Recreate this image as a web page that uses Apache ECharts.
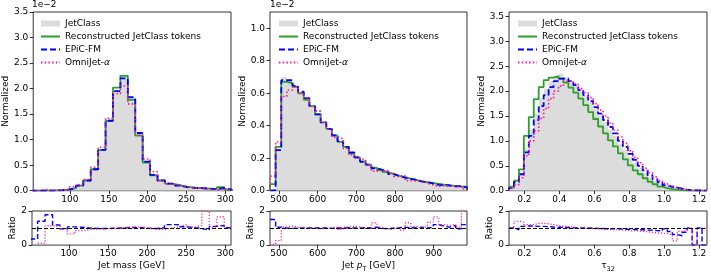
<!DOCTYPE html>
<html><head><meta charset="utf-8">
<script src="https://cdn.jsdelivr.net/npm/echarts@6/dist/echarts.min.js"></script>
<style>html,body{margin:0;padding:0;background:#fff}#c{width:711px;height:274px}</style>
</head><body><div id="c"></div>
<script>
// ---------- data (values in units of the y axis; 1e-2 offset for mass and pT) ----------
const massRange = [52.7, 307.3];
const massBinStart = 50.35, massBinWidth = 9.55;
const massTicks = [100, 150, 200, 250, 300];
const massJetClass = [0, 0.003, 0.005, 0.01, 0.02, 0.05, 0.1, 0.2, 0.42, 0.8, 1.37, 1.97, 2.25, 1.8, 1.1, 0.57, 0.31, 0.2, 0.14, 0.11, 0.08, 0.06, 0.05, 0.04, 0.03, 0.06, 0.02];
const massReco = [0, 0.003, 0.005, 0.01, 0.02, 0.05, 0.1, 0.2, 0.42, 0.8, 1.37, 2.02, 2.25, 1.78, 1.08, 0.55, 0.3, 0.2, 0.14, 0.11, 0.08, 0.06, 0.05, 0.04, 0.03, 0.07, 0.02];
const massEpic = [0, 0.002, 0.003, 0.008, 0.02, 0.05, 0.1, 0.2, 0.42, 0.8, 1.37, 1.95, 2.2, 1.83, 1.13, 0.57, 0.31, 0.2, 0.14, 0.1, 0.07, 0.055, 0.05, 0.04, 0.03, 0.055, 0.02];
const massOmni = [0, 0.025, 0.004, 0.009, 0.021, 0.077, 0.12, 0.22, 0.46, 0.85, 1.42, 1.9, 2.05, 1.7, 1.1, 0.62, 0.37, 0.2, 0.13, 0.1, 0.07, 0.055, 0.05, 0.035, 0.015, 0.035, 0.02];
const massRatioEpic = [0.36, 1.4, 1.78, 1.18, 0.95, 1.07, 1.05, 1.0, 0.98, 0.97, 0.99, 1.0, 1.02, 1.03, 1.02, 0.98, 0.97, 1.02, 1.2, 1.2, 1.08, 1.02, 0.97, 0.88, 1.1, 1.15, 1.02];
const massRatioOmni = [null, 0.12, 1.13, 1.1, 0.95, 0.65, 0.85, 0.9, 0.93, 0.95, 0.97, 1.0, 1.05, 1.08, 1.05, 1.0, 0.92, 0.92, 1.0, 1.1, 1.2, 1.05, 1.15, 2.0, 1.05, 1.65, 1.0];

const ptRange = [477, 986];
const ptBinStart = 477, ptBinWidth = 14.543;
const ptTicks = [500, 600, 700, 800, 900];
const ptJetClass = [0.005, 0.26, 0.70, 0.68, 0.645, 0.61, 0.57, 0.52, 0.47, 0.42, 0.38, 0.34, 0.30, 0.27, 0.23, 0.205, 0.18, 0.16, 0.142, 0.127, 0.114, 0.102, 0.092, 0.083, 0.074, 0.066, 0.059, 0.052, 0.047, 0.042, 0.037, 0.033, 0.03, 0.027, 0.024];
const ptReco = [0.04, 0.27, 0.67, 0.66, 0.64, 0.6, 0.56, 0.52, 0.47, 0.42, 0.38, 0.34, 0.3, 0.27, 0.23, 0.205, 0.18, 0.16, 0.142, 0.127, 0.114, 0.102, 0.092, 0.083, 0.074, 0.066, 0.059, 0.052, 0.047, 0.042, 0.037, 0.033, 0.03, 0.027, 0.024];
const ptEpic = [0.004, 0.25, 0.68, 0.68, 0.645, 0.61, 0.57, 0.52, 0.47, 0.42, 0.38, 0.34, 0.305, 0.27, 0.235, 0.205, 0.178, 0.16, 0.138, 0.128, 0.117, 0.102, 0.09, 0.08, 0.073, 0.066, 0.056, 0.052, 0.045, 0.036, 0.034, 0.032, 0.027, 0.028, 0.02];
const ptOmni = [0.09, 0.3, 0.58, 0.62, 0.64, 0.6, 0.57, 0.52, 0.49, 0.42, 0.38, 0.33, 0.32, 0.26, 0.22, 0.2, 0.19, 0.16, 0.12, 0.125, 0.12, 0.107, 0.088, 0.094, 0.062, 0.06, 0.059, 0.047, 0.035, 0.026, 0.031, 0.029, 0.025, 0.026, 0.012];
const ptRatioEpic = [1.5, 1.05, 1.0, 0.98, 1.0, 1.0, 1.0, 1.0, 1.0, 1.0, 0.98, 1.0, 1.0, 1.02, 1.0, 1.0, 1.02, 1.0, 1.05, 0.98, 0.95, 1.0, 1.02, 1.05, 1.02, 1.0, 1.05, 1.0, 1.05, 1.2, 1.1, 1.05, 1.15, 0.95, 1.2];
const ptRatioOmni = [0.05, 0.27, 1.05, 1.12, 1.05, 1.0, 0.98, 1.0, 0.95, 1.0, 1.02, 1.05, 0.92, 1.05, 1.1, 1.05, 0.98, 1.0, 1.3, 1.05, 0.95, 0.95, 1.05, 0.88, 1.3, 1.1, 1.0, 1.1, 1.35, 1.65, 1.2, 1.15, 1.2, 1.05, 2.0];

const tauRange = [0.112, 1.245];
const tauBinStart = 0.112, tauBinWidth = 0.028325;
const tauTicks = [0.2, 0.4, 0.6, 0.8, 1.0, 1.2];
const tauJetClass = [0.05, 0.15, 0.35, 0.85, 1.22, 1.55, 1.85, 2.05, 2.2, 2.3, 2.35, 2.28, 2.2, 2.1, 2.0, 1.9, 1.78, 1.65, 1.5, 1.38, 1.23, 1.1, 0.95, 0.82, 0.68, 0.56, 0.45, 0.36, 0.27, 0.2, 0.14, 0.1, 0.06, 0.04, 0.025, 0.015, 0.01, 0.006, 0.003, 0.002];
const tauReco = [0.08, 0.2, 0.43, 1.1, 1.48, 1.84, 2.08, 2.22, 2.27, 2.3, 2.25, 2.17, 2.07, 1.97, 1.85, 1.72, 1.58, 1.44, 1.29, 1.15, 1.01, 0.89, 0.75, 0.63, 0.51, 0.41, 0.33, 0.25, 0.18, 0.13, 0.08, 0.05, 0.03, 0.02, 0.01, 0.005, 0.003, 0.002, 0.001, 0.001];
const tauEpic = [0.05, 0.17, 0.33, 0.77, 1.1, 1.42, 1.7, 1.92, 2.08, 2.2, 2.25, 2.25, 2.2, 2.12, 2.02, 1.92, 1.8, 1.68, 1.55, 1.42, 1.28, 1.15, 1.0, 0.88, 0.74, 0.62, 0.5, 0.41, 0.31, 0.23, 0.17, 0.11, 0.075, 0.06, 0.04, 0.02, 0.01, 0.008, 0.003, 0.002];
const tauOmni = [0.05, 0.12, 0.26, 0.7, 1.0, 1.2, 1.45, 1.65, 1.85, 2.0, 2.1, 2.2, 2.2, 2.15, 2.05, 1.97, 1.87, 1.75, 1.62, 1.5, 1.36, 1.22, 1.08, 0.95, 0.8, 0.67, 0.56, 0.45, 0.36, 0.28, 0.2, 0.15, 0.1, 0.06, 0.04, 0.02, 0.01, 0.006, 0.003, 0.002];
const tauRatioEpic = [1.0, 0.9, 1.1, 1.12, 1.12, 1.1, 1.1, 1.08, 1.06, 1.05, 1.05, 1.03, 1.02, 1.0, 1.0, 1.0, 0.99, 0.98, 0.97, 0.96, 0.95, 0.95, 0.94, 0.93, 0.92, 0.9, 0.9, 0.88, 0.87, 0.85, 0.83, 0.95, 0.8, 0.62, 0.55, 0.75, 1.0, 0.0, 1.0, 0.0];
const tauRatioOmni = [1.0, 1.4, 1.35, 1.2, 1.2, 1.28, 1.28, 1.25, 1.2, 1.15, 1.1, 1.08, 1.05, 1.02, 1.0, 0.98, 0.97, 0.95, 0.93, 0.92, 0.9, 0.9, 0.88, 0.86, 0.85, 0.83, 0.8, 0.78, 0.75, 0.72, 0.7, 0.68, 0.6, 0.25, 0.8, 0.85, 1.0, 0.0, 1.0, 1.0];

const normTicksA = [0, 0.5, 1, 1.5, 2, 2.5, 3, 3.5];
const normTicksB = [0, 0.2, 0.4, 0.6, 0.8, 1.0];
const ratioTicks = [0, 2];

// ---------- helpers ----------
const FONT = 'DejaVu Sans';
function binEdges(start, width, n) { return Array.from({length: n + 1}, (_, i) => start + i * width); }
function histData(e, v, drop) {
  const d = [];
  if (drop) d.push([e[0], 0]);
  v.forEach((y, i) => d.push([e[i], y]));
  d.push([e[v.length], v[v.length - 1]]);
  if (drop) d.push([e[v.length], 0]);
  return d;
}
const COL = {gray: '#dcdcdc', green: '#2ca02c', blue: '#0000ff', pink: '#ff1493'};
const subRich = {
  i: {fontStyle: 'italic', fontSize: 9, fontFamily: FONT, lineHeight: 14, color: '#000'},
  t: {fontSize: 9, fontFamily: FONT, lineHeight: 14, color: '#000'},
  s: {fontSize: 6.5, fontFamily: FONT, lineHeight: 8, verticalAlign: 'bottom', color: '#000'}
};

const panels = [
  {range: massRange, bin: [massBinStart, massBinWidth], ticks: massTicks, yMax: 3.5, yTicks: normTicksA, xName: 'Jet mass [GeV]', xFmt: v => String(v),
   gray: massJetClass, reco: massReco, epic: massEpic, omni: massOmni, rEpic: massRatioEpic, rOmni: massRatioOmni,
   left: 32, width: 199, nGap: 19, rGap: 11, legLeft: 40, offset: true},
  {range: ptRange, bin: [ptBinStart, ptBinWidth], ticks: ptTicks, yMax: 1.1, yTicks: normTicksB, xName: 'Jet {i|p}{s|T} [GeV]', xFmt: v => String(v),
   gray: ptJetClass, reco: ptReco, epic: ptEpic, omni: ptOmni, rEpic: ptRatioEpic, rOmni: ptRatioOmni,
   left: 270, width: 197, nGap: 18, rGap: 11, legLeft: 278, offset: true},
  {range: tauRange, bin: [tauBinStart, tauBinWidth], ticks: tauTicks, yMax: 3.59, yTicks: normTicksA, xName: '{t|τ}{s|32}', xFmt: v => v.toFixed(1),
   gray: tauJetClass, reco: tauReco, epic: tauEpic, omni: tauOmni, rEpic: tauRatioEpic, rOmni: tauRatioOmni,
   left: 509, width: 198, nGap: 20, rGap: 12, legLeft: 517, offset: false}
];

const MAIN_TOP = 12, MAIN_H = 178.7, RAT_TOP = 211, RAT_H = 36;
const grid = [], xAxis = [], yAxis = [], series = [], legend = [], title = [];
const tickStyle = {show: true, length: 3.5, inside: false, lineStyle: {color: '#000', width: 0.8}};
const lblBase = {fontFamily: FONT, fontSize: 9, color: '#000'};

panels.forEach((p, k) => {
  const gi = 2 * k, ri = 2 * k + 1;
  const e = binEdges(p.bin[0], p.bin[1], p.gray.length);
  grid.push({left: p.left, top: MAIN_TOP, width: p.width, height: MAIN_H, show: true, borderColor: '#000', borderWidth: 0.8, backgroundColor: 'transparent'});
  grid.push({left: p.left, top: RAT_TOP, width: p.width, height: RAT_H, show: true, borderColor: '#000', borderWidth: 0.8, backgroundColor: 'transparent'});
  const xa = (g, withName) => ({
    type: 'value', gridIndex: g, min: p.range[0], max: p.range[1],
    axisLine: {show: false}, splitLine: {show: false},
    axisTick: Object.assign({customValues: p.ticks}, tickStyle),
    axisLabel: Object.assign({customValues: p.ticks, formatter: p.xFmt, margin: 4}, lblBase),
    name: withName ? p.xName : '', nameLocation: 'middle', nameGap: 11,
    nameTextStyle: {fontFamily: FONT, fontSize: 9, color: '#000', lineHeight: 14, rich: subRich}
  });
  xAxis.push(xa(gi, false));
  xAxis.push(xa(ri, true));
  yAxis.push({
    type: 'value', gridIndex: gi, min: 0, max: p.yMax,
    axisLine: {show: false}, splitLine: {show: false},
    axisTick: Object.assign({customValues: p.yTicks}, tickStyle),
    axisLabel: Object.assign({customValues: p.yTicks, formatter: v => v.toFixed(1), margin: 5}, lblBase),
    name: 'Normalized', nameLocation: 'middle', nameRotate: 90, nameGap: p.nGap,
    nameTextStyle: {fontFamily: FONT, fontSize: 9, color: '#000'}
  });
  yAxis.push({
    type: 'value', gridIndex: ri, min: 0, max: 2,
    axisLine: {show: false}, splitLine: {show: false},
    axisTick: Object.assign({customValues: ratioTicks}, tickStyle),
    axisLabel: Object.assign({customValues: ratioTicks, formatter: v => String(v), margin: 5}, lblBase),
    name: 'Ratio', nameLocation: 'middle', nameRotate: 90, nameGap: p.rGap,
    nameTextStyle: {fontFamily: FONT, fontSize: 9, color: '#000'}
  });
  const base = {type: 'line', xAxisIndex: gi, yAxisIndex: gi, step: 'end', symbol: 'none', silent: true, animation: false};
  series.push(Object.assign({}, base, {name: 'JetClass', data: histData(e, p.gray, true), z: 1,
    itemStyle: {color: COL.gray}, lineStyle: {width: 0, color: COL.gray}, areaStyle: {color: COL.gray, opacity: 1}}));
  series.push(Object.assign({}, base, {name: 'Reconstructed JetClass tokens', data: histData(e, p.reco, true), z: 2,
    itemStyle: {color: COL.green}, lineStyle: {width: 1.8, color: COL.green}}));
  series.push(Object.assign({}, base, {name: 'EPiC-FM', data: histData(e, p.epic, true), z: 3,
    itemStyle: {color: COL.blue}, lineStyle: {width: 1.8, color: COL.blue, type: [6, 3]}}));
  series.push(Object.assign({}, base, {name: 'OmniJet-α', data: histData(e, p.omni, true), z: 4,
    itemStyle: {color: COL.pink}, lineStyle: {width: 1.6, color: COL.pink, type: [1.5, 2.2]}}));
  const rbase = {type: 'line', xAxisIndex: ri, yAxisIndex: ri, step: 'end', symbol: 'none', silent: true, animation: false, connectNulls: false};
  series.push(Object.assign({}, rbase, {name: 'EPiC-FM', data: histData(e, p.rEpic, false), z: 3,
    itemStyle: {color: COL.blue}, lineStyle: {width: 1.4, color: COL.blue, type: [5, 2.5]}}));
  series.push(Object.assign({}, rbase, {name: 'OmniJet-α', data: histData(e, p.rOmni, false), z: 4,
    itemStyle: {color: COL.pink}, lineStyle: {width: 1.2, color: COL.pink, type: [1.2, 1.8]},
    markLine: {silent: true, symbol: 'none', label: {show: false}, animation: false,
      lineStyle: {color: '#000', type: [4, 2], width: 1}, data: [{yAxis: 1}]}}));
  legend.push({
    orient: 'vertical', left: p.legLeft, top: 17, itemWidth: 19, itemHeight: 6, itemGap: 0, padding: 0,
    selectedMode: false,
    itemStyle: {opacity: 0, color: 'rgba(0,0,0,0)', borderWidth: 0},
    data: [{name: 'JetClass', icon: 'rect', itemStyle: {opacity: 1, color: COL.gray, borderWidth: 0}},
           {name: 'Reconstructed JetClass tokens'}, {name: 'EPiC-FM'}, {name: 'OmniJet-α'}],
    formatter: n => n === 'OmniJet-α' ? 'OmniJet-{i|α}' : n,
    textStyle: {fontFamily: FONT, fontSize: 9, color: '#000', lineHeight: 13,
      rich: {i: {fontStyle: 'italic', fontFamily: FONT, fontSize: 9, lineHeight: 13, color: '#000'}}}
  });
  if (p.offset) title.push({text: '1e\u22122', left: p.left, top: 0.5, padding: 0,
    textStyle: {fontFamily: FONT, fontSize: 9, fontWeight: 'normal', color: '#000'}});
});

const chart = echarts.init(document.getElementById('c'), null, {renderer: 'canvas'});
chart.setOption({animation: false, backgroundColor: '#fff', title, legend, grid, xAxis, yAxis, series});
</script></body></html>
